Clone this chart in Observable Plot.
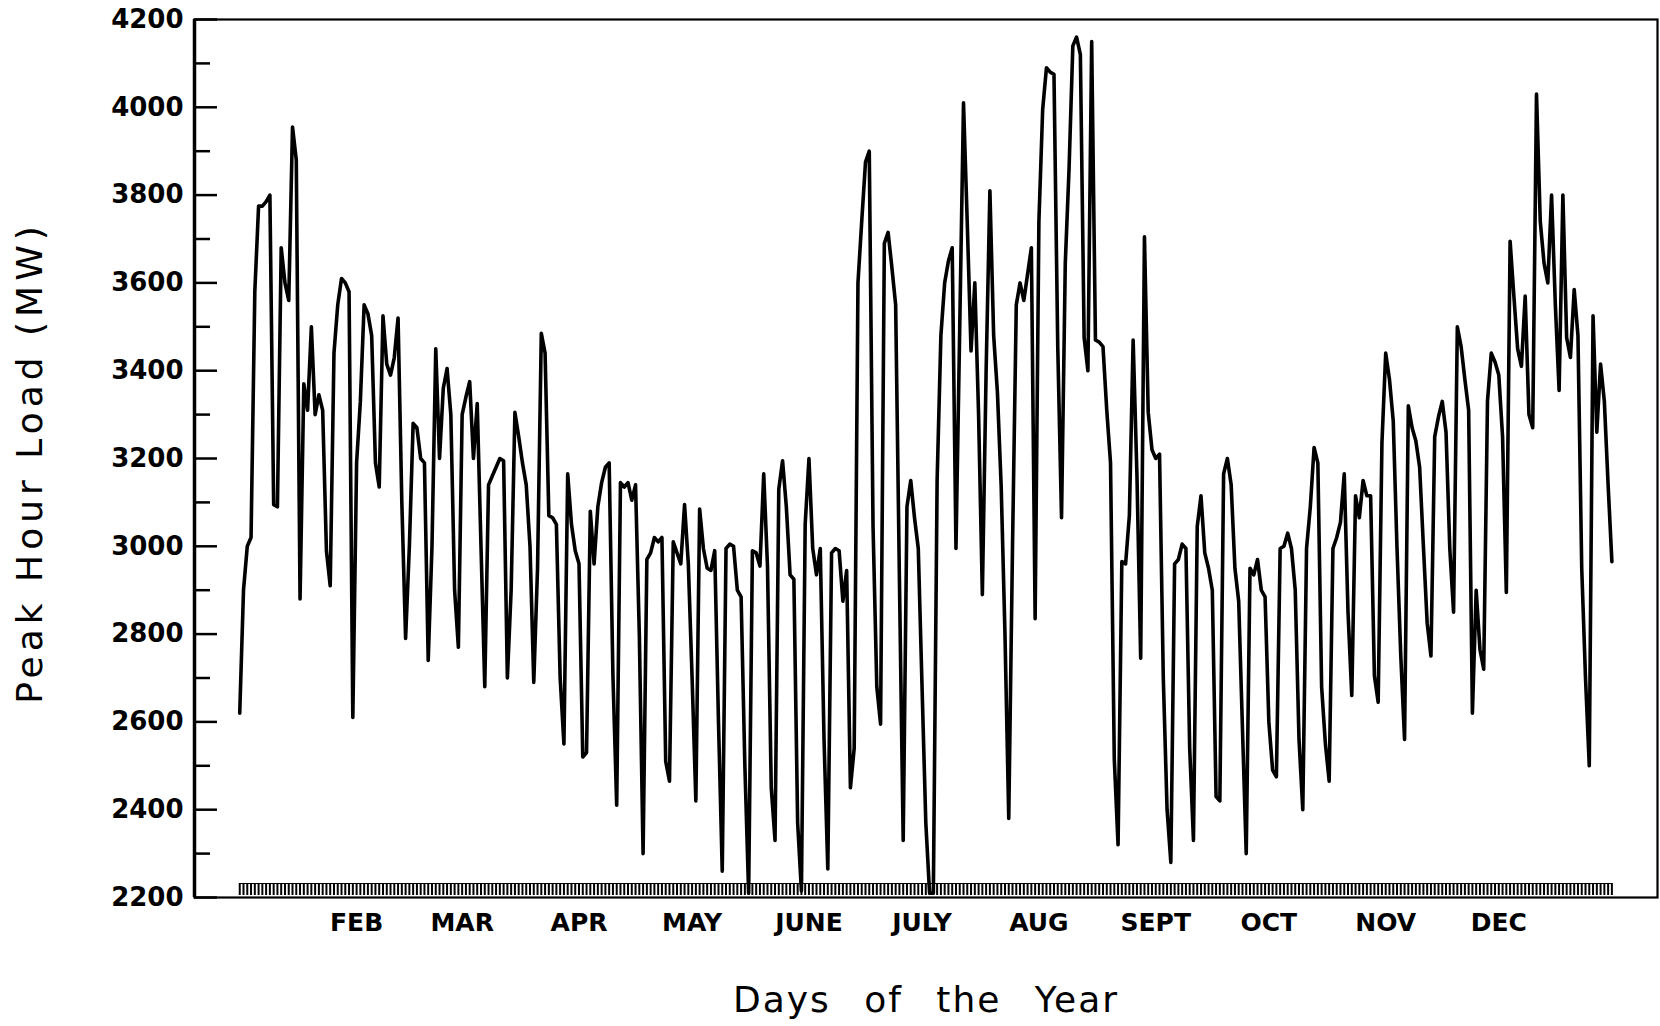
<!DOCTYPE html>
<html>
<head>
<meta charset="utf-8">
<script src="https://cdn.jsdelivr.net/npm/d3@7"></script>
<script src="https://cdn.jsdelivr.net/npm/@observablehq/plot@0.6"></script>
<style>
  html, body { margin: 0; padding: 0; background: #fff; }
  #chart svg { display: block; }
</style>
</head>
<body>
<div id="chart"></div>
<script>
// Daily peak hour load (MW), one array per month
const jan = [2620, 2900, 3000, 3020, 3580, 3775, 3775, 3785, 3800, 3095, 3090, 3680, 3600, 3560, 3955, 3880, 2880, 3370, 3310, 3500, 3300, 3345, 3310, 2990, 2910, 3440, 3550, 3610, 3600, 3580, 2610];
const feb = [3190, 3330, 3550, 3530, 3480, 3190, 3135, 3525, 3415, 3390, 3430, 3520, 3100, 2790, 3000, 3280, 3270, 3200, 3190, 2740, 3000, 3450, 3200, 3360, 3405, 3300, 2900, 2770];
const mar = [3300, 3340, 3375, 3200, 3325, 3000, 2680, 3140, 3160, 3180, 3200, 3195, 2700, 2900, 3305, 3250, 3190, 3140, 3000, 2690, 2950, 3485, 3440, 3070, 3065, 3050, 2700, 2550, 3165, 3050, 2990];
const apr = [2960, 2520, 2530, 3080, 2960, 3090, 3145, 3180, 3190, 2705, 2410, 3145, 3135, 3145, 3105, 3140, 2800, 2300, 2970, 2985, 3020, 3010, 3020, 2510, 2465, 3010, 2985, 2960, 3095, 2960];
const may = [2700, 2420, 3085, 2995, 2950, 2945, 2990, 2600, 2260, 2995, 3005, 3000, 2900, 2885, 2500, 2210, 2990, 2985, 2955, 3165, 2955, 2450, 2330, 3130, 3195, 3090, 2935, 2925, 2370, 2215, 3050];
const jun = [3200, 2995, 2935, 2995, 2560, 2265, 2985, 2995, 2990, 2875, 2945, 2450, 2540, 3600, 3740, 3875, 3900, 3045, 2680, 2595, 3690, 3715, 3635, 3550, 2925, 2330, 3090, 3150, 3065, 2995];
const jul = [2680, 2370, 2210, 2210, 3150, 3480, 3600, 3650, 3680, 2995, 3500, 4010, 3735, 3445, 3600, 3300, 2890, 3400, 3810, 3480, 3350, 3135, 2800, 2380, 3000, 3550, 3600, 3560, 3620, 3680, 2835];
const aug = [3740, 3995, 4090, 4080, 4075, 3455, 3065, 3645, 3860, 4140, 4160, 4120, 3475, 3400, 4150, 3470, 3465, 3455, 3310, 3190, 2515, 2320, 2965, 2960, 3070, 3470, 3165, 2745, 3705, 3305, 3220];
const sep = [3200, 3210, 2700, 2400, 2280, 2960, 2970, 3005, 2995, 2540, 2330, 3045, 3115, 2985, 2950, 2900, 2430, 2420, 3165, 3200, 3140, 2950, 2875, 2585, 2300, 2950, 2935, 2970, 2900, 2885];
const oct = [2600, 2490, 2475, 2995, 3000, 3030, 2995, 2900, 2560, 2400, 2995, 3090, 3225, 3190, 2680, 2550, 2465, 2995, 3020, 3055, 3165, 2850, 2660, 3115, 3065, 3150, 3115, 3115, 2705, 2645, 3235];
const nov = [3440, 3380, 3285, 2995, 2750, 2560, 3320, 3270, 3240, 3180, 3000, 2825, 2750, 3250, 3295, 3330, 3260, 2995, 2850, 3500, 3455, 3380, 3310, 2620, 2900, 2765, 2720, 3330, 3440, 3420];
const dec = [3390, 3250, 2895, 3695, 3570, 3450, 3410, 3570, 3300, 3270, 4030, 3740, 3645, 3600, 3800, 3550, 3355, 3800, 3475, 3430, 3585, 3480, 2950, 2700, 2500, 3525, 3260, 3415, 3330, 3140, 2965];

// Axis ticks and labels
const monthTickDays = [32, 60, 91, 121, 152, 182, 213, 244, 274, 305, 335];
const monthTickLabels = ["FEB", "MAR", "APR", "MAY", "JUNE", "JULY", "AUG", "SEPT", "OCT", "NOV", "DEC"];
const yMajorTicks = [2200, 2400, 2600, 2800, 3000, 3200, 3400, 3600, 3800, 4000, 4200];
const yMinorTicks = [2300, 2500, 2700, 2900, 3100, 3300, 3500, 3700, 3900, 4100];
const yTitle = "Peak Hour Load (MW)";
const xTitle = "Days of the Year";

const loads = [].concat(jan, feb, mar, apr, may, jun, jul, aug, sep, oct, nov, dec);
const data = loads.map((v, i) => ({day: i + 1, load: v}));
const days = data.map(d => d.day);

const W = 1660, H = 1026;
const mL = 194, mR = 3, mT = 19, mB = 129;
const plotW = W - mL - mR, plotH = H - mT - mB;
const font = "DejaVu Sans, Verdana, sans-serif";

const chart = Plot.plot({
  width: W,
  height: H,
  marginLeft: mL,
  marginRight: mR,
  marginTop: mT,
  marginBottom: mB,
  style: {background: "white", color: "black", fontFamily: font},
  x: {domain: [-11.0, 377.1], axis: null},
  y: {domain: [2200, 4200], axis: null},
  marks: [
    Plot.tickX(days, {x: d => d, insetTop: plotH - 14, insetBottom: 2, stroke: "black", strokeWidth: 2}),
    Plot.ruleY([2200 + 14 / plotH * 2000], {x1: 1, x2: 365, stroke: "black", strokeWidth: 1}),
    Plot.line(data, {x: "day", y: "load", stroke: "black", strokeWidth: 3.6, strokeLinejoin: "round", strokeLinecap: "round"}),
    Plot.tickY(yMajorTicks, {y: d => d, insetRight: plotW - 23, stroke: "black", strokeWidth: 2.5}),
    Plot.tickY(yMinorTicks, {y: d => d, insetRight: plotW - 16, stroke: "black", strokeWidth: 2.5}),
    Plot.frame({stroke: "black", strokeWidth: 2.2}),
    Plot.ruleX([-11.0], {stroke: "black", strokeWidth: 3.5}),
    Plot.axisY(yMajorTicks, {tickSize: 0, tickPadding: 11, fontSize: 26, fontWeight: "bold", fontFamily: font, label: null, tickFormat: d => String(d)}),
    Plot.axisX(monthTickDays, {tickSize: 0, tickPadding: 16, fontSize: 25, fontWeight: "bold", fontFamily: font, label: null, tickFormat: d => monthTickLabels[monthTickDays.indexOf(d)]}),
    Plot.text([yTitle], {frameAnchor: "left", dx: 30 - mL, dy: 4, rotate: -90, textAnchor: "middle", lineAnchor: "middle", text: d => d, fontSize: 36, fontFamily: font}),
    Plot.text([xTitle], {frameAnchor: "bottom", dy: 103, textAnchor: "middle", lineAnchor: "middle", text: d => d, fontSize: 36, fontFamily: font})
  ]
});

document.getElementById("chart").appendChild(chart);
d3.select(chart).selectAll("text").filter(function () { return this.textContent === yTitle; })
  .style("letter-spacing", "5px");
d3.select(chart).selectAll("text").filter(function () { return this.textContent === xTitle; })
  .style("letter-spacing", "2px").style("word-spacing", "20px");
</script>
</body>
</html>
